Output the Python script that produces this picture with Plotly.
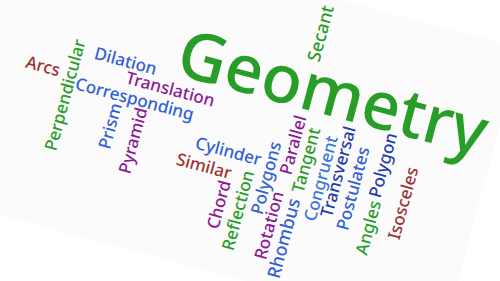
import plotly.graph_objects as go

# ---- data: words and their weights (word frequency) ----
words = ["Geometry", "Secant", "Dilation", "Arcs", "Perpendicular", "Translation",
         "Corresponding", "Prism", "Pyramid", "Cylinder", "Similar", "Chord",
         "Reflection", "Polygons", "Parallel", "Tangent", "Rhombus", "Rotation",
         "Congruent", "Transversal", "Postulates", "Polygon", "Angles", "Isosceles"]
weights = [37, 10, 9.5, 9.5, 9.5, 9.5, 9.5, 9.5, 9.5, 9.5, 9.5, 9.5,
           9.5, 9.5, 9.5, 9.5, 10, 9.5, 9.5, 9.5, 9.5, 9.5, 9.5, 9.5]
color_group = ["green", "green", "blue", "red", "green", "purple",
               "blue", "blue", "purple", "blue", "red", "purple",
               "green", "blue", "purple", "green", "blue", "purple",
               "blue2", "navy", "blue", "navy", "green", "red"]
orientation = ["h", "v", "h", "h", "v", "h", "h", "v", "v", "h", "h", "v",
               "v", "v", "v", "v", "v", "v", "v", "v", "v", "v", "v", "v"]

# ---- layout of the cloud (placement in the 500x281 page) ----
place_x = [334, 320, 126, 43, 64, 170, 135, 109, 132, 228, 204, 218,
           237, 265, 292, 305, 283, 268, 320, 337, 352, 382, 367, 402]
place_y = [90, 33, 60, 65, 95, 88, 98, 126, 140, 150, 165, 204,
           210, 178, 145, 160, 238, 225, 178, 172, 188, 165, 228, 203]

palette = {"green": "rgb(40,158,40)", "blue": "rgb(50,95,215)",
           "purple": "rgb(140,25,150)", "red": "rgb(160,50,50)",
           "blue2": "rgb(60,120,220)", "navy": "rgb(35,60,170)"}
TILT = 15
FONT = "Noto Sans"

fig = go.Figure()
fig.add_trace(go.Scatter(x=[0, 500], y=[0, 281], mode="markers",
                         marker=dict(opacity=0), hoverinfo="skip", showlegend=False))

# faint tilted card
fig.add_shape(type="path",
              path="M -156,-133 L 520.6,48.4 L 444,334 L -232,153 Z",
              fillcolor="rgb(251,251,251)", line=dict(width=0), layer="below",
              xref="x", yref="y")

for w, wt, cg, o, px, py in zip(words, weights, color_group, orientation, place_x, place_y):
    fig.add_annotation(x=px, y=py, xref="x", yref="y", text=w, showarrow=False,
                       xanchor="center", yanchor="middle",
                       textangle=TILT if o == "h" else TILT - 90,
                       font=dict(family=FONT, size=wt * 1.8, color=palette[cg],
                                 weight=500))

fig.update_layout(width=500, height=281, margin=dict(l=0, r=0, t=0, b=0),
                  paper_bgcolor="white", plot_bgcolor="white",
                  xaxis=dict(range=[0, 500], visible=False, fixedrange=True),
                  yaxis=dict(range=[281, 0], visible=False, fixedrange=True),
                  showlegend=False)
fig.write_html("out.html", config={"displayModeBar": False},
               post_script="document.body.style.margin='0';document.body.style.overflow='hidden';")
